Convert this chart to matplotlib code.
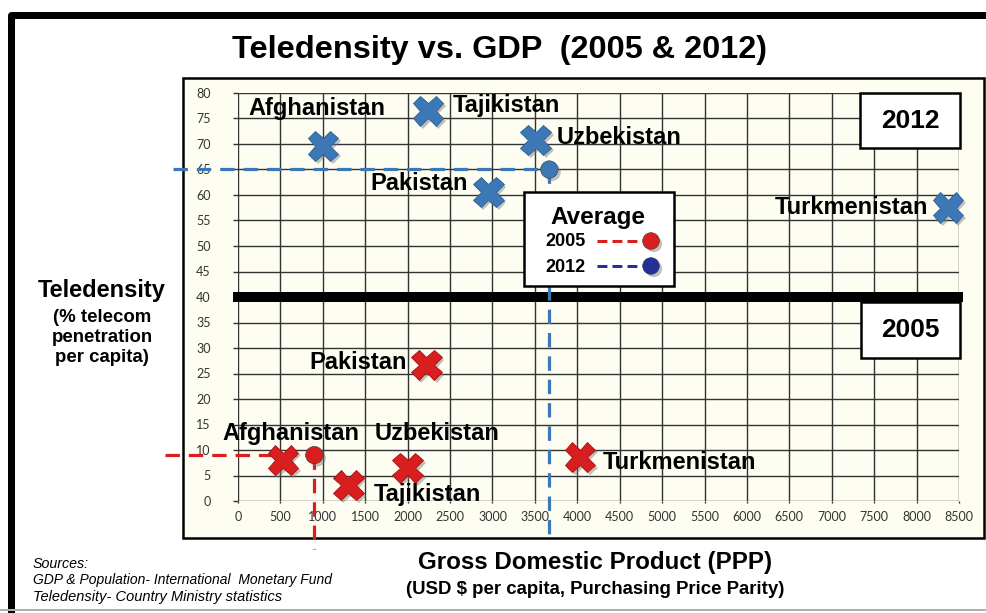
import matplotlib
matplotlib.use('Agg')
import matplotlib.pyplot as plt
from matplotlib import font_manager as fm
from matplotlib.patches import Rectangle
from matplotlib.lines import Line2D
import matplotlib.patheffects as pe

# ---------------- data ----------------
countries = ['Afghanistan', 'Tajikistan', 'Uzbekistan', 'Pakistan', 'Turkmenistan']
gdp_2005 = [530, 1300, 2000, 2220, 4030]
tele_2005 = [8.0, 3.1, 6.5, 26.7, 8.6]
gdp_2012 = [1000, 2240, 3510, 2950, 8370]
tele_2012 = [69.6, 76.5, 70.8, 60.6, 57.5]
avg_years = ['2005', '2012']
avg_gdp = [900, 3670]
avg_tele = [9.0, 65.0]
divider_y = 40
x_ticks = list(range(0, 8501, 500))
y_ticks = list(range(0, 81, 5))

title = 'Teledensity vs. GDP  (2005 & 2012)'
ylabel_main = 'Teledensity'
ylabel_sub = ['(% telecom', 'penetration', 'per capita)']
xlabel_main = 'Gross Domestic Product (PPP)'
xlabel_sub = '(USD $ per capita, Purchasing Price Parity)'
sources = ['Sources:', 'GDP & Population- International  Monetary Fund',
           'Teledensity- Country Ministry statistics']

# ---------------- style ----------------
W, H = 987, 613
BLUE = '#3d78b6'
RED = '#d81e1e'
NAVY = '#24309a'
names = {f.name for f in fm.fontManager.ttflist}
MAIN = 'Liberation Sans' if 'Liberation Sans' in names else 'DejaVu Sans'
NARROW = 'Liberation Sans Narrow' if 'Liberation Sans Narrow' in names else MAIN
TICKF = 'Lato' if 'Lato' in names else MAIN

plt.rcParams['font.family'] = [MAIN, 'DejaVu Sans']

fig = plt.figure(figsize=(W / 100, H / 100), dpi=100)
fig.patch.set_facecolor('white')
renderer = fig.canvas.get_renderer()


def fx(x):
    return x / W


def fy(y):
    return 1 - y / H


def px2pt(p):
    return p * 72 / 100


def fit_text(x, y, s, width_px, ha='center', **kw):
    t = fig.text(fx(x), fy(y), s, ha=ha, va='center', fontsize=20, **kw)
    w = t.get_window_extent(renderer=renderer).width
    t.set_fontsize(20 * width_px / w)
    return t


# outer frame
fig.add_artist(Line2D([fx(11), fx(11), fx(990)], [fy(640), fy(15), fy(15)],
                      color='black', lw=px2pt(7), solid_joinstyle='round'))
fig.add_artist(Line2D([0, 1], [fy(610), fy(610)], color='#b0b0b0', lw=px2pt(2)))

# panel
fig.add_artist(Rectangle((fx(183), fy(538)), (984 - 183) / W, (538 - 78) / H,
                         facecolor='#fdfdf2', edgecolor='black', lw=px2pt(2.5), zorder=0))

# axes
ax = fig.add_axes([238 / W, 1 - 501 / H, 721 / W, 408 / H])
ax.patch.set_visible(False)
for s in ax.spines.values():
    s.set_visible(False)
ax.set_xlim(0, 8500)
ax.set_ylim(0, 80)
ax.set_xticks(x_ticks)
ax.set_yticks(y_ticks)
ax.grid(True, color='#333333', lw=1.0)
ax.set_axisbelow(True)
ax.tick_params(axis='y', length=px2pt(5), width=1.0, color='#333333', pad=16,
               labelsize=9, labelcolor='#333333')
ax.tick_params(axis='x', length=px2pt(2), width=1.0, color='#333333', pad=6,
               labelsize=9, labelcolor='#333333')
for lab in ax.get_xticklabels() + ax.get_yticklabels():
    lab.set_family(TICKF)

# divider line
ax.plot([-60, 8550], [divider_y, divider_y], color='black', lw=px2pt(10),
        solid_capstyle='butt', clip_on=False, zorder=3)

shadow = [pe.SimplePatchShadow(offset=(2, -2), shadow_rgbFace='#777777', alpha=0.45), pe.Normal()]

# average reference lines (extend past panel like original)
avg_colors = [RED, BLUE]
x_ext = [-860, -770]
y_ext = [-9.4, -8.0]
for gx, ty, c, xe, ye in zip(avg_gdp, avg_tele, avg_colors, x_ext, y_ext):
    ax.plot([xe, gx], [ty, ty], color=c, lw=px2pt(3.2), ls=(0, (4.5, 2.8)),
            clip_on=False, zorder=4)
    ax.plot([gx, gx], [ty, ye], color=c, lw=px2pt(3.2), ls=(0, (4.5, 2.8)),
            clip_on=False, zorder=4)
    ax.plot([gx], [ty], marker='o', ms=12.5, color=c, mec='#333333', mew=0.4,
            ls='none', clip_on=False, zorder=6, path_effects=shadow)

# scatter crosses
ax.plot(gdp_2012, tele_2012, ls='none', marker='X', ms=22, color=BLUE,
        mec='#2e5f96', mew=0.6, zorder=5, clip_on=False, path_effects=shadow)
ax.plot(gdp_2005, tele_2005, ls='none', marker='X', ms=22, color=RED,
        mec='#a81010', mew=0.6, zorder=5, clip_on=False, path_effects=shadow)

off_2012 = {'Afghanistan': (-4, 27, 'center'), 'Tajikistan': (18, 4, 'left'),
            'Uzbekistan': (15, 2, 'left'), 'Pakistan': (-15, 6, 'right'),
            'Turkmenistan': (-14, 0, 'right')}
off_2005 = {'Afghanistan': (6, 19, 'center'), 'Tajikistan': (18, -7, 'left'),
            'Uzbekistan': (21, 25, 'center'), 'Pakistan': (-14, 2, 'right'),
            'Turkmenistan': (16.5, -4, 'left')}
for gx_list, ty_list, offs in [(gdp_2012, tele_2012, off_2012), (gdp_2005, tele_2005, off_2005)]:
    for name, gx, ty in zip(countries, gx_list, ty_list):
        dx, dy, ha = offs[name]
        ax.annotate(name, (gx, ty), xytext=(dx, dy), textcoords='offset points',
                    ha=ha, va='center', fontsize=17, fontweight='bold',
                    color='black', zorder=7)

# year boxes
for (x0, y0, x1, y1, s) in [(860, 93, 960, 148, '2012'), (861, 302, 960, 358, '2005')]:
    fig.add_artist(Rectangle((fx(x0), fy(y1)), (x1 - x0) / W, (y1 - y0) / H,
                             facecolor='white', edgecolor='black', lw=px2pt(2.5), zorder=5))
    fig.text(fx((x0 + x1) / 2), fy((y0 + y1) / 2), s, ha='center', va='center',
             fontsize=19, fontweight='bold', zorder=6)

# average legend box
fig.add_artist(Rectangle((fx(524), fy(286)), 150 / W, 94 / H, facecolor='white',
                         edgecolor='black', lw=px2pt(2.5), zorder=5))
fig.text(fx(598), fy(217), 'Average', ha='center', va='center', fontsize=17.5,
         fontweight='bold', zorder=6)
leg_cols = [RED, NAVY]
for yr, c, yy in zip(avg_years, leg_cols, [242, 267]):
    fig.text(fx(565), fy(yy), yr, ha='center', va='center', fontsize=13,
             fontweight='bold', zorder=6)
    fig.add_artist(Line2D([fx(597), fx(642)], [fy(yy - 1), fy(yy - 1)], color=c,
                          lw=px2pt(3), ls=(0, (3.3, 1.7)), zorder=6))
    fig.add_artist(Line2D([fx(651)], [fy(yy - 1)], marker='o', ms=12, color=c,
                          mec='#333333', mew=0.4, ls='none', zorder=7,
                          path_effects=shadow))

# y label
fig.text(fx(102), fy(290), ylabel_main, ha='center', va='center', fontsize=17,
         fontweight='bold')
for s, yy in zip(ylabel_sub, [317, 337, 358]):
    fig.text(fx(102), fy(yy), s, ha='center', va='center', fontsize=13.4,
             fontweight='bold')

# title & x labels
fit_text(500, 50, title, 535, family=[NARROW, 'DejaVu Sans'], fontweight='bold')
fit_text(595, 563, xlabel_main, 354, family=[NARROW, 'DejaVu Sans'], fontweight='bold')
fit_text(595, 589, xlabel_sub, 381, family=[NARROW, 'DejaVu Sans'], fontweight='bold')

# sources
fit_text(33, 564, sources[0], 56, ha='left', family=[NARROW, 'DejaVu Sans'], style='italic')
fit_text(33, 580, sources[1], 297, ha='left', family=[NARROW, 'DejaVu Sans'], style='italic')
fit_text(33, 597, sources[2], 247, ha='left', family=[NARROW, 'DejaVu Sans'], style='italic')

fig.savefig('out.png', dpi=100)
